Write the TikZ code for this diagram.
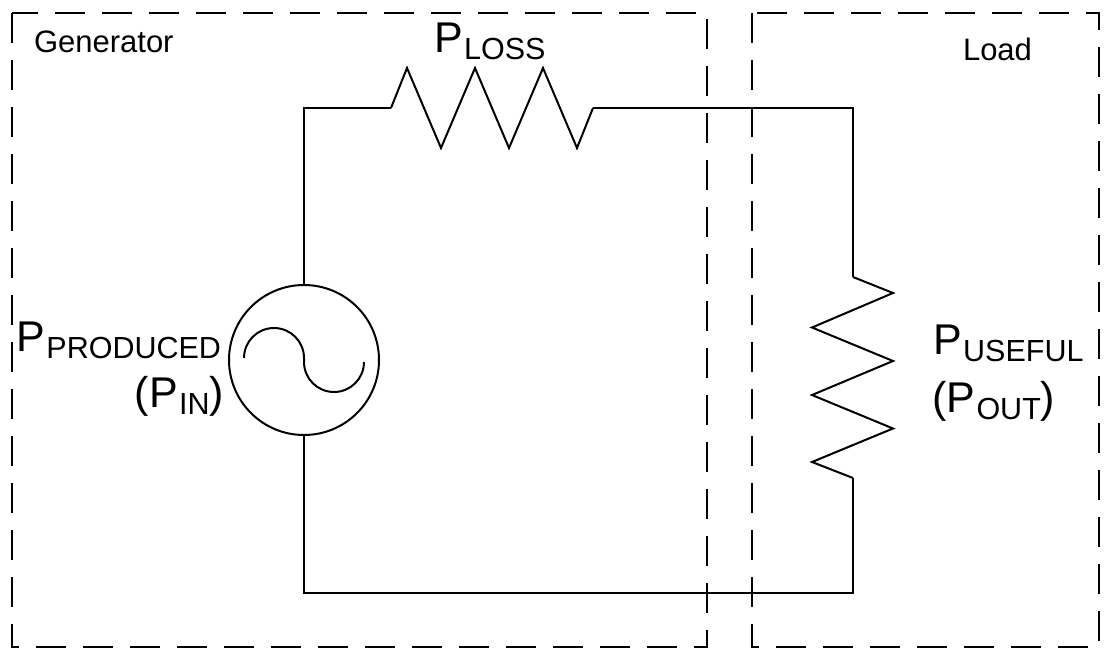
\documentclass[tikz,border=0pt]{standalone}
\usepackage{fontspec}
\setmainfont{Liberation Sans}
\newcommand\Psub[1]{P\kern1.5pt\raisebox{-7pt}{\fontsize{30.5}{30}\selectfont #1}}
\begin{document}
\begin{tikzpicture}[x=1pt,y=-1pt,
  wire/.style={line width=2pt},
  dbox/.style={line width=2pt, dash pattern=on 30pt off 17pt},
  big/.style={font=\fontsize{43}{46}\selectfont, inner sep=0pt, outer sep=0pt},
  lbl/.style={font=\fontsize{31}{36}\selectfont, inner sep=0pt, outer sep=0pt}]
\useasboundingbox (0,0) rectangle (1113,659);
% dashed boxes
\draw[dbox] (12,13) rectangle (707,647);
\draw[dbox] (752,13) rectangle (1099,647);
\node[lbl, anchor=base west] (genlbl) at (34,52) {Generator};
\node[lbl, anchor=base west] (loadlbl) at (963,60) {Load};
% generator
\node[draw, circle, line width=2pt, minimum size=150pt, inner sep=0pt, outer sep=0pt] (gen) at (304,360) {};
\draw[wire] (244,358) arc[start angle=180, end angle=360, radius=30] -- (304,362) arc[start angle=180, end angle=0, radius=30];
% top resistor
\coordinate (r1a) at (391,108);
\coordinate (r1b) at (593,108);
\draw[wire] (r1a) -- (407,68) -- (441,148) -- (475,68) -- (509,148) -- (543,68) -- (577,148) -- (r1b);
% right resistor
\coordinate (r2a) at (853,277);
\coordinate (r2b) at (853,478);
\draw[wire] (r2a) -- (893,293) -- (812,327.5) -- (893,361) -- (812,395) -- (893,428.5) -- (812,462) -- (r2b);
% wires
\coordinate (cbr) at (853,593);
\draw[wire] (gen.north) |- (r1a);
\draw[wire] (r1b) -| (r2a);
\draw[wire] (r2b) -- (cbr) -| (gen.south);
% labels
\node[big, anchor=base west] (ploss) at (434,52) {\Psub{LOSS}};
\node[big, anchor=base east] (pprod) at (221,351) {\Psub{PRODUCED}};
\node[big, anchor=base east] (pin) at (224,407) {(\Psub{IN})};
\node[big, anchor=base west] (puse) at (933,354) {\Psub{USEFUL}};
\node[big, anchor=base west] (pout) at (932,412) {(\Psub{OUT})};
\end{tikzpicture}
\end{document}
